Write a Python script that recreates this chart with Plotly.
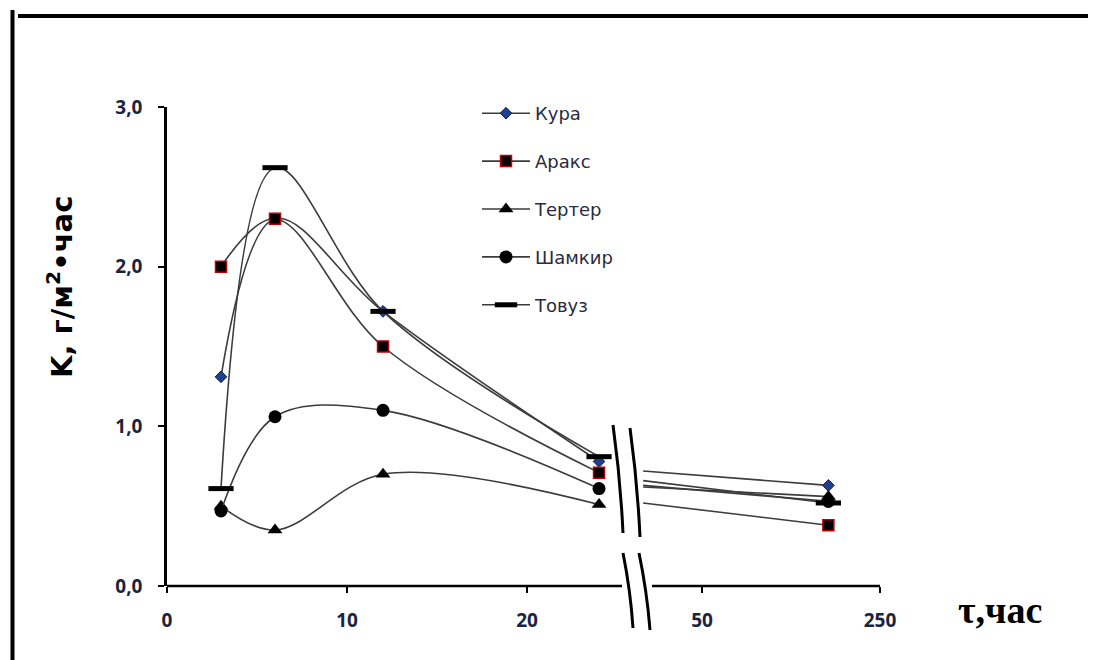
import plotly.graph_objects as go

# ---- data ----
hours = [3, 6, 12, 24, 192]
series_names = ["Кура", "Аракс", "Тертер", "Шамкир", "Товуз"]
kura = [1.31, 2.30, 1.72, 0.78, 0.63]
araks = [2.00, 2.30, 1.50, 0.71, 0.38]
terter = [0.50, 0.35, 0.70, 0.51, 0.56]
shamkir = [0.47, 1.06, 1.10, 0.61, 0.53]
tovuz = [0.61, 2.62, 1.72, 0.81, 0.52]
# value where each line re-emerges right of the axis break
after_break = [0.72, 0.52, 0.62, 0.63, 0.66]
x_tick_labels = [0, 10, 20, 50, 250]
y_tick_vals = [0, 1, 2, 3]
y_tick_text = ["0,0", "1,0", "2,0", "3,0"]

# ---- broken time axis: linear up to 24 h, compressed beyond the break ----
BREAK_LO, BREAK_HI = 24, 50
HI_START = 29.72
HI_SCALE = 0.04944
BREAK_RIGHT_POS = 26.45


def tpos(t):
    return t if t <= BREAK_LO else HI_START + (t - BREAK_HI) * HI_SCALE


xs = [tpos(t) for t in hours]
x_tick_pos = [tpos(t) for t in x_tick_labels]
X_MAX = tpos(250)

# ---- pixel geometry of the plot area (as seen in the page) ----
W, H = 1096, 660
OFF = 8  # page body margin
L, R, T, B = 167, 880, 107, 586


def P(px, py):
    return (px - L) / (R - L), (B - py) / (B - T)


LINE_COL = "#3c3c3c"
styles = {
    "Кура": dict(symbol="diamond", size=9, color="#1f3f8f", line=dict(color="#10204a", width=1)),
    "Аракс": dict(symbol="square", size=11, color="#000000", line=dict(color="#c00000", width=1.5)),
    "Тертер": dict(symbol="triangle-up", size=13, color="#000000", line=dict(color="#000000", width=0)),
    "Шамкир": dict(symbol="circle", size=13, color="#000000", line=dict(color="#000000", width=0)),
    "Товуз": dict(symbol="line-ew", size=18, color="#000000", line=dict(color="#000000", width=5)),
}
data = dict(zip(series_names, [kura, araks, terter, shamkir, tovuz]))

fig = go.Figure()
for i, name in enumerate(series_names):
    ys = data[name]
    # smoothed part before the break
    fig.add_trace(go.Scatter(
        x=xs[:4], y=ys[:4], mode="lines+markers", name=name,
        line=dict(color=LINE_COL, width=1.6, shape="spline", smoothing=1.0),
        marker=styles[name], legendgroup=name, cliponaxis=False,
    ))
    # straight part after the break
    fig.add_trace(go.Scatter(
        x=[BREAK_RIGHT_POS, xs[4]], y=[after_break[i], ys[4]], mode="lines",
        name=name, showlegend=False, legendgroup=name,
        line=dict(color=LINE_COL, width=1.6), cliponaxis=False,
    ))
for i, name in enumerate(series_names):
    ys = data[name]
    fig.add_trace(go.Scatter(
        x=xs[4:], y=ys[4:], mode="markers", name=name, showlegend=False,
        marker=styles[name], legendgroup=name, cliponaxis=False,
    ))

shapes = []
# x axis line with gap
for a, b in [(L, 622), (652, R)]:
    xa, ya = P(a, B)
    xb, yb = P(b, B)
    shapes.append(dict(type="line", xref="paper", yref="paper", x0=xa, y0=ya, x1=xb, y1=yb,
                       line=dict(color="black", width=2.5), layer="above"))
# break marks
arcs = [((613, 425), (623, 533)), ((630, 428), (640, 537)),
        ((623, 553), (633, 628)), ((639, 553), (650, 630))]
for (ax, ay), (bx, by) in arcs:
    pa = P(ax, ay)
    pb = P(bx, by)
    pc = P((ax + bx) / 2 + 2.5, (ay + by) / 2)
    path = f"M {pa[0]},{pa[1]} Q {pc[0]},{pc[1]} {pb[0]},{pb[1]}"
    shapes.append(dict(type="path", xref="paper", yref="paper", path=path,
                       line=dict(color="black", width=3), layer="above"))
# frame lines of the figure
fx0, fy0 = P(12.5, 10)
fx1, fy1 = P(12.5, 670)
shapes.append(dict(type="line", xref="paper", yref="paper", x0=fx0, y0=fy0, x1=fx1, y1=fy1,
                   line=dict(color="black", width=4)))
tx0, ty0 = P(18, 16)
tx1, ty1 = P(1110, 16)
shapes.append(dict(type="line", xref="paper", yref="paper", x0=tx0, y0=ty0, x1=tx1, y1=ty1,
                   line=dict(color="black", width=4)))

annotations = []
ax_, ay_ = P(60, 287)
annotations.append(dict(xref="paper", yref="paper", x=ax_, y=ay_, showarrow=False,
                        text="<b>K, г/м<sup>2</sup>•час</b>", textangle=-90,
                        font=dict(family="DejaVu Sans", size=29, color="black"),
                        xanchor="center", yanchor="middle"))
bx_, by_ = P(1000, 610)
annotations.append(dict(xref="paper", yref="paper", x=bx_, y=by_, showarrow=False,
                        text="<b>τ,час</b>",
                        font=dict(family="Liberation Serif, Times New Roman", size=38, color="black"),
                        xanchor="center", yanchor="middle"))

tick_font = dict(family="Open Sans, Liberation Sans", size=19, color="#1a2440", weight="bold")

fig.update_layout(
    width=W, height=H, autosize=False,
    margin=dict(l=L - OFF, r=W - (R - OFF), t=T - OFF, b=H - (B - OFF), pad=0),
    paper_bgcolor="white", plot_bgcolor="white",
    shapes=shapes, annotations=annotations,
    xaxis=dict(range=[0, X_MAX], tickvals=x_tick_pos, ticktext=[str(v) for v in x_tick_labels],
               showgrid=False, zeroline=False, showline=False,
               ticks="outside", ticklen=6, tickwidth=2, tickcolor="black",
               tickfont=tick_font, ticklabelstandoff=11),
    yaxis=dict(range=[0, 3], tickvals=y_tick_vals, ticktext=y_tick_text,
               showgrid=False, zeroline=False, showline=True, linecolor="black", linewidth=2.5,
               ticks="outside", ticklen=6, tickwidth=2, tickcolor="black",
               tickfont=tick_font, ticklabelstandoff=12),
    legend=dict(x=(477 - L) / (R - L), y=(B - 95) / (B - T), xanchor="left", yanchor="top",
                font=dict(family="DejaVu Sans", size=18, color="#2a2a40"),
                tracegroupgap=21.5, itemwidth=48, bgcolor="rgba(0,0,0,0)"),
    showlegend=True,
)

fig.write_html("out.html")
